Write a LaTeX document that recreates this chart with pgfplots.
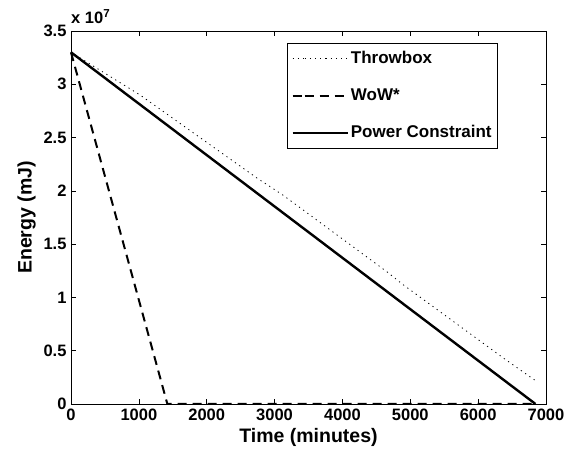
\documentclass[border=0pt]{standalone}
\usepackage{fontspec}
\setmainfont{Liberation Sans}
\usepackage{pgfplots}
\pgfplotsset{compat=1.18}
\begin{document}
\begin{tikzpicture}
\begin{axis}[
  name=ax,
  scale only axis,
  width=475pt, height=373pt,
  xmin=0, xmax=7000, ymin=0, ymax=3.5e7,
  axis line style={line width=0.8pt},
  tick style={line width=0.6pt, black},
  major tick length=5pt,
  tick align=inside,
  xtick pos=both, ytick pos=both,
  xtick={0,1000,2000,3000,4000,5000,6000,7000},
  xticklabels={0,1000,2000,3000,4000,5000,6000,7000},
  ytick={0,0.5e7,1e7,1.5e7,2e7,2.5e7,3e7,3.5e7},
  yticklabels={0,0.5,1,1.5,2,2.5,3,3.5},
  scaled y ticks=false, scaled x ticks=false,
  ticklabel style={font=\fontsize{16.5}{18}\selectfont\bfseries},
  xticklabel style={yshift=-1pt},
  yticklabel style={xshift=-1pt},
  xlabel={Time (minutes)},
  ylabel={Energy (mJ)},
  label style={font=\fontsize{19.5}{22}\selectfont\bfseries},
  xlabel style={yshift=-1pt},
  ylabel style={yshift=1pt},
  legend cell align=left,
  legend style={at={(rel axis cs:0.899,0.968)}, anchor=north east,
    draw=black, line width=0.8pt, fill=white,
    font=\fontsize{17}{19}\selectfont\bfseries,
    inner xsep=4pt, inner ysep=5pt,
    nodes={inner xsep=2pt, inner ysep=3pt, text height=12pt, text depth=3pt},
    row sep=16pt},
  legend image code/.code={\path (0pt,0pt) -- (12pt,0pt); \draw[#1] (12pt,0pt) -- (55pt,0pt);},
  clip=false,
]
\addplot[black, line width=0.8pt, dash pattern=on 1.2pt off 4pt] coordinates {
 (0,3.30e7) (1017,2.90e7) (2741,2.12e7) (3124,1.96e7) (4657,1.24e7) (4893,1.12e7) (6396,0.42e7) (6866,0.21e7)};
\addlegendentry{Throwbox}
\addplot[black, line width=2pt, dash pattern=on 9pt off 6pt] coordinates {
 (0,3.30e7) (1420,0) (6850,0)};
\addlegendentry{WoW*}
\addplot[black, line width=2.4pt] coordinates {
 (0,3.30e7) (6845,0)};
\addlegendentry{Power Constraint}
\node[anchor=south west, inner sep=0pt, yshift=7pt, font=\fontsize{16.5}{18}\selectfont\bfseries] at (rel axis cs:0,1) {x 10\textsuperscript{7}};
\end{axis}
\path (ax.south west) ++(-71pt,-49pt) coordinate (bl);
\path (ax.north east) ++(30pt,31pt) coordinate (tr);
\path (bl) rectangle (tr);
\end{tikzpicture}
\end{document}
